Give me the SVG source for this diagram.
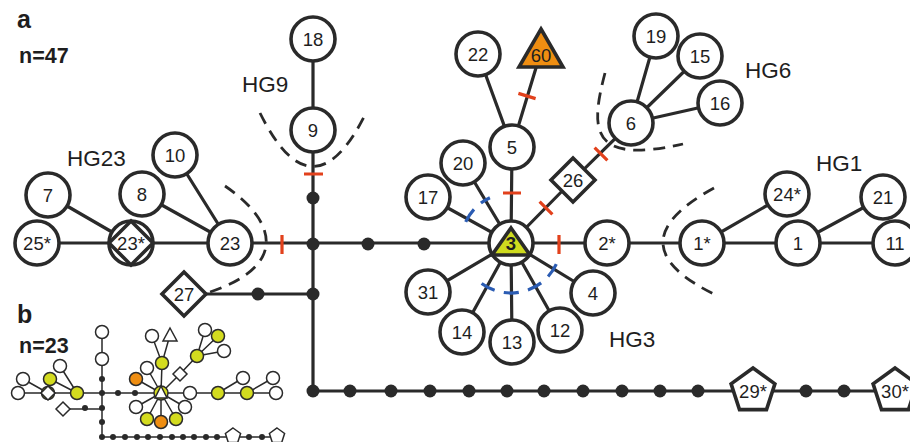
<svg xmlns="http://www.w3.org/2000/svg" width="910" height="442" viewBox="0 0 910 442">
<style>
.ln{stroke:#2a2a2a;stroke-width:3.2;fill:none;stroke-linecap:butt}
.nd{fill:#fff;stroke:#2a2a2a;stroke-width:3.6}
.dot{fill:#2a2a2a}
.t{font-family:"Liberation Sans",Arial,sans-serif;font-size:18.5px;fill:#1e1e1e;text-anchor:middle}
.hg{font-family:"Liberation Sans",Arial,sans-serif;font-size:22.5px;fill:#1e1e1e}
.lbl{font-family:"Liberation Sans",Arial,sans-serif;font-weight:bold;fill:#1e1e1e}
.red{stroke:#e2411c;stroke-width:3.2;fill:none}
.blue{stroke:#2b5cb3;stroke-width:3.2;fill:none;stroke-dasharray:15 9.4}
.dash{stroke:#2a2a2a;stroke-width:2.8;fill:none;stroke-dasharray:12 8}
.sl{stroke:#2a2a2a;stroke-width:1.5;fill:none}
.sn{fill:#fff;stroke:#2a2a2a;stroke-width:1.5}
.sy{fill:#d3db1f;stroke:#2a2a2a;stroke-width:1.5}
.so{fill:#ef8e12;stroke:#2a2a2a;stroke-width:1.5}
.sd{fill:#2a2a2a}
</style>
<rect width="910" height="442" fill="#fff"/>
<text class="lbl" x="17" y="28" font-size="25">a</text>
<text class="lbl" x="19" y="63" font-size="21.5">n=47</text>
<text class="hg" x="242" y="92">HG9</text>
<text class="hg" x="67" y="166">HG23</text>
<text class="hg" x="745" y="78">HG6</text>
<text class="hg" x="816" y="171">HG1</text>
<text class="hg" x="609" y="347">HG3</text>

<g id="connectors">
<path class="ln" d="M313,39V391H910"/>
<path class="ln" d="M37,243H511"/>
<path class="ln" d="M185,294H313"/>
<path class="ln" d="M48,195L131,243M142,194L230,243M175,155L230,243"/>
<path class="ln" d="M511,243L512,147M512,147L478,54M512,147L539,58M511,243L573,180L631,123M631,123L656,36M631,123L700,56M631,123L720,103"/>
<path class="ln" d="M511,243L463,163M511,243L428,197M511,243L428,292M511,243L462,332M511,243L512,342M511,243L560,330M511,243L593,293"/>
<path class="ln" d="M511,243H895M702,243L787,194M798,243L883,197"/>
<g class="dot">
<circle cx="313" cy="198" r="6.5"/><circle cx="313" cy="244" r="6.5"/><circle cx="313" cy="294" r="6.5"/>
<circle cx="368" cy="244" r="6.5"/><circle cx="424" cy="244" r="6.5"/><circle cx="258" cy="294" r="6.5"/>
<circle cx="313" cy="391" r="6.5"/><circle cx="350" cy="391" r="6.5"/><circle cx="391" cy="391" r="6.5"/><circle cx="430" cy="391" r="6.5"/><circle cx="469" cy="391" r="6.5"/><circle cx="507" cy="391" r="6.5"/><circle cx="544" cy="391" r="6.5"/><circle cx="583" cy="391" r="6.5"/><circle cx="622" cy="391" r="6.5"/><circle cx="660" cy="391" r="6.5"/><circle cx="698" cy="391" r="6.5"/><circle cx="806" cy="391" r="6.5"/><circle cx="844" cy="391" r="6.5"/>
</g>
<path class="red" d="M304,174H323M282,235V254M503,193H521M518.4,93.4L535.6,98.6M539.6,201.7L552.4,214.3M594.6,147.7L607.4,160.3M559,235V254"/>
<path class="blue" d="M556.3,264.1A50,50 0 0 1 481.6,283.5"/>
<path class="blue" d="M465.7,221.9A50,50 0 0 1 489.9,197.7"/>
<path class="dash" d="M260,113Q313,220 366,113"/>
<path class="dash" d="M225,186C275,220 290,265 210,292"/>
<path class="dash" d="M605,73C590,130 590,165 683,144"/>
<path class="dash" d="M714,188Q610,245 718,296"/>
</g>

<g id="n18"><circle class="nd" cx="313" cy="39" r="22"/><text class="t" x="313" y="45.5">18</text></g>
<g id="n9"><circle class="nd" cx="313" cy="130" r="22"/><text class="t" x="313" y="136.5">9</text></g>
<g id="n7"><circle class="nd" cx="48" cy="195" r="22"/><text class="t" x="48" y="201.5">7</text></g>
<g id="n8"><circle class="nd" cx="142" cy="194" r="22"/><text class="t" x="142" y="200.5">8</text></g>
<g id="n10"><circle class="nd" cx="175" cy="155" r="22"/><text class="t" x="175" y="161.5">10</text></g>
<g id="n25s"><circle class="nd" cx="37" cy="243" r="22"/><text class="t" x="37" y="249.5">25*</text></g>
<g id="n23s"><circle class="nd" cx="131" cy="243" r="22"/><path class="nd" d="M131,221L153,243L131,265L109,243Z"/><text class="t" x="131" y="249.5">23*</text></g>
<g id="n23"><circle class="nd" cx="230" cy="243" r="22"/><text class="t" x="230" y="249.5">23</text></g>
<g id="n27"><path class="nd" d="M184,272L206,294L184,316L162,294Z"/><text class="t" x="184" y="300.5">27</text></g>
<g id="n22"><circle class="nd" cx="478" cy="54" r="22"/><text class="t" x="478" y="60.5">22</text></g>
<g id="n60"><path d="M541,29L563,67H519Z" fill="#ef8e12" stroke="#2a2a2a" stroke-width="3.6" stroke-linejoin="miter"/><text class="t" x="541" y="62">60</text></g>
<g id="n5"><circle class="nd" cx="512" cy="147" r="22"/><text class="t" x="512" y="153.5">5</text></g>
<g id="n20"><circle class="nd" cx="463" cy="163" r="22"/><text class="t" x="463" y="169.5">20</text></g>
<g id="n17"><circle class="nd" cx="428" cy="197" r="22"/><text class="t" x="428" y="203.5">17</text></g>
<g id="n26"><path class="nd" d="M573,158L595,180L573,202L551,180Z"/><text class="t" x="573" y="186.5">26</text></g>
<g id="n6"><circle class="nd" cx="631" cy="123" r="22"/><text class="t" x="631" y="129.5">6</text></g>
<g id="n19"><circle class="nd" cx="656" cy="36" r="22"/><text class="t" x="656" y="42.5">19</text></g>
<g id="n15"><circle class="nd" cx="700" cy="56" r="22"/><text class="t" x="700" y="62.5">15</text></g>
<g id="n16"><circle class="nd" cx="720" cy="103" r="22"/><text class="t" x="720" y="109.5">16</text></g>
<g id="n3"><circle class="nd" cx="511" cy="243" r="22"/><path d="M511,228L530,255H492Z" fill="#cfdb1e" stroke="#2a2a2a" stroke-width="3.6"/><text class="t" x="511" y="250" font-weight="bold">3</text></g>
<g id="n2s"><circle class="nd" cx="607" cy="243" r="22"/><text class="t" x="607" y="249.5">2*</text></g>
<g id="n31"><circle class="nd" cx="428" cy="292" r="22"/><text class="t" x="428" y="298.5">31</text></g>
<g id="n14"><circle class="nd" cx="462" cy="332" r="22"/><text class="t" x="462" y="338.5">14</text></g>
<g id="n13"><circle class="nd" cx="512" cy="342" r="22"/><text class="t" x="512" y="348.5">13</text></g>
<g id="n12"><circle class="nd" cx="560" cy="330" r="22"/><text class="t" x="560" y="336.5">12</text></g>
<g id="n4"><circle class="nd" cx="593" cy="293" r="22"/><text class="t" x="593" y="299.5">4</text></g>
<g id="n1s"><circle class="nd" cx="702" cy="243" r="22"/><text class="t" x="702" y="249.5">1*</text></g>
<g id="n1"><circle class="nd" cx="798" cy="243" r="22"/><text class="t" x="798" y="249.5">1</text></g>
<g id="n24s"><circle class="nd" cx="787" cy="194" r="22"/><text class="t" x="787" y="200.5">24*</text></g>
<g id="n21"><circle class="nd" cx="883" cy="197" r="22"/><text class="t" x="883" y="203.5">21</text></g>
<g id="n11"><circle class="nd" cx="895" cy="243" r="22"/><text class="t" x="895" y="249.5">11</text></g>
<g id="n29s"><path class="nd" d="M753,368L774.9,383.9L766.5,409.6H739.5L731.1,383.9Z"/><text class="t" x="753" y="398">29*</text></g>
<g id="n30s"><path class="nd" d="M895,368L916.9,383.9L908.5,409.6H881.5L873.1,383.9Z"/><text class="t" x="895" y="398">30*</text></g>

<g id="panel-b">
<text class="lbl" x="17" y="323" font-size="25">b</text>
<text class="lbl" x="19" y="353" font-size="21.5">n=23</text>
<g id="b-connectors">
<path class="sl" d="M102,332V437H277M18,393H276M23,379L48,393M50,379L77,393M60,366L77,393M63,409H102"/>
<path class="sl" d="M161,393L162,363L152,336M162,363L170,335M161,393L147,368M161,393L136,379M161,393L180,374L197,356L205,330M197,356L218,336M197,356L224,351M218,393L243,378M247,393L273,378"/>
<path class="sl" d="M161,393L136,407M161,393L147,419M161,393L161,422M161,393L176,419M161,393L185,407"/>
<g class="sd">
<circle cx="102" cy="379" r="3"/><circle cx="102" cy="393" r="3"/><circle cx="102" cy="408" r="3"/><circle cx="102" cy="422" r="3"/><circle cx="102" cy="437" r="3"/>
<circle cx="118" cy="393" r="3"/><circle cx="135" cy="393" r="3"/><circle cx="85" cy="408" r="3"/>
<circle cx="113" cy="437" r="3"/><circle cx="125" cy="437" r="3"/><circle cx="137" cy="437" r="3"/><circle cx="148" cy="437" r="3"/><circle cx="160" cy="437" r="3"/><circle cx="172" cy="437" r="3"/><circle cx="183" cy="437" r="3"/><circle cx="194" cy="437" r="3"/><circle cx="206" cy="437" r="3"/><circle cx="217" cy="437" r="3"/><circle cx="249" cy="437" r="3"/><circle cx="262" cy="437" r="3"/>
</g>
</g>
<g id="b-nodes">
<circle class="sn" cx="102" cy="332" r="6.5"/><circle class="sn" cx="102" cy="359" r="6.5"/>
<circle class="sn" cx="23" cy="379" r="6.5"/><circle class="sn" cx="18" cy="393" r="6.5"/>
<circle class="sy" cx="48" cy="393" r="6.5"/><path class="sn" d="M48,386L55,393L48,400L41,393Z"/>
<circle class="sy" cx="50" cy="379" r="6.5"/><circle class="sn" cx="60" cy="366" r="6.5"/><circle class="sy" cx="77" cy="393" r="6.5"/>
<path class="sn" d="M63,402L70,409L63,416L56,409Z"/>
<circle class="sy" cx="161" cy="393" r="7"/><path class="sn" d="M161,386L167,398H155Z"/>
<circle class="sy" cx="162" cy="363" r="6.5"/><circle class="sn" cx="152" cy="336" r="6.5"/><path class="sn" d="M170,328L177,341H163Z"/>
<circle class="sn" cx="147" cy="368" r="6.5"/><circle class="so" cx="136" cy="379" r="6.5"/>
<path class="sn" d="M180,367L187,374L180,381L173,374Z"/>
<circle class="sy" cx="197" cy="356" r="6.5"/><circle class="sn" cx="205" cy="330" r="6.5"/><circle class="sy" cx="218" cy="336" r="6.5"/><circle class="sn" cx="224" cy="351" r="6.5"/>
<circle class="sn" cx="190" cy="393" r="6.5"/><circle class="sy" cx="218" cy="393" r="6.5"/><circle class="sn" cx="243" cy="378" r="6.5"/><circle class="sy" cx="247" cy="393" r="6.5"/><circle class="sn" cx="273" cy="378" r="6.5"/><circle class="sn" cx="276" cy="393" r="6.5"/>
<circle class="sn" cx="136" cy="407" r="6.5"/><circle class="sy" cx="147" cy="419" r="6.5"/><circle class="so" cx="161" cy="422" r="6.5"/><circle class="sy" cx="176" cy="419" r="6.5"/><circle class="sn" cx="185" cy="407" r="6.5"/>
<path class="sn" d="M233,428L240.6,433.5L237.7,442.5H228.3L225.4,433.5Z"/>
<path class="sn" d="M277,428L284.6,433.5L281.7,442.5H272.3L269.4,433.5Z"/>
</g>
</g>
</svg>
